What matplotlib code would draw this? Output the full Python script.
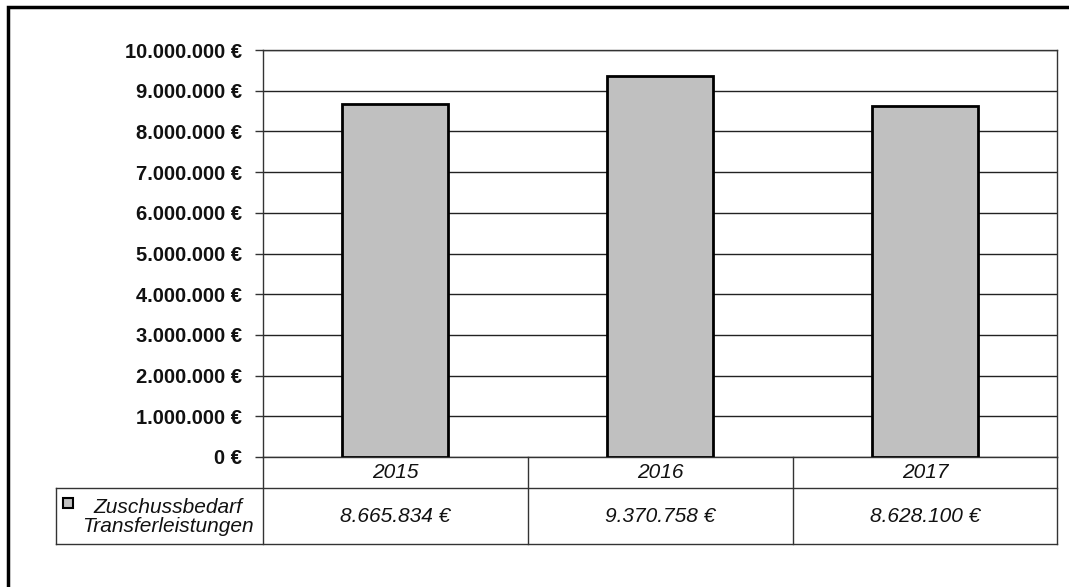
import matplotlib
matplotlib.use("Agg")
import matplotlib.pyplot as plt
from matplotlib.patches import Rectangle
from matplotlib.lines import Line2D
from matplotlib.ticker import FuncFormatter, MultipleLocator

plt.rcParams['font.family'] = ['Liberation Sans', 'DejaVu Sans']

years = ["2015", "2016", "2017"]
zuschuss = [8665834, 9370758, 8628100]
series_label = "Zuschussbedarf\nTransferleistungen"

W, H = 1069, 587
fig = plt.figure(figsize=(W / 100, H / 100), dpi=100)

def fx(px):
    return px / W

def fy(py):
    return 1 - py / H

# outer frame (runs off the right and bottom edges)
fig.add_artist(Rectangle((fx(8), fy(600)), fx(1080) - fx(8), fy(7) - fy(600),
                         transform=fig.transFigure, fill=False,
                         edgecolor="black", linewidth=2.5, clip_on=False))

ax = fig.add_axes([fx(263), fy(457), fx(1057) - fx(263), fy(50) - fy(457)])
x = list(range(len(years)))
ax.bar(x, zuschuss, width=0.4, color="#C0C0C0", edgecolor="black",
       linewidth=2, zorder=3)
ax.set_xlim(-0.5, len(years) - 0.5)
ax.set_ylim(0, 10_000_000)
ax.yaxis.set_major_locator(MultipleLocator(1_000_000))

def euro(v, pos):
    return f"{int(round(v)):,} €".replace(",", ".")

ax.yaxis.set_major_formatter(FuncFormatter(euro))
ax.grid(axis="y", color="#222222", linewidth=1, zorder=0)
ax.set_xticks([])
for s in ax.spines.values():
    s.set_color("#333333")
    s.set_linewidth(1)
ax.tick_params(axis="y", direction="out", length=6, width=1, color="#333333",
               pad=9, labelsize=14.5, labelcolor="#111111")
for lbl in ax.get_yticklabels():
    lbl.set_fontweight("bold")

# data table beneath the plot
line_kw = dict(color="#333333", linewidth=1, transform=fig.transFigure, clip_on=False)
col_edges_px = [263, 528, 793, 1057]
y_cat_top, y_cat_bot, y_val_bot = 457, 488, 544
legend_left = 56
fig.add_artist(Line2D([fx(legend_left), fx(1057)], [fy(y_cat_bot)] * 2, **line_kw))
fig.add_artist(Line2D([fx(legend_left), fx(1057)], [fy(y_val_bot)] * 2, **line_kw))
for cx in col_edges_px:
    fig.add_artist(Line2D([fx(cx)] * 2, [fy(y_cat_top), fy(y_val_bot)], **line_kw))
fig.add_artist(Line2D([fx(legend_left)] * 2, [fy(y_cat_bot), fy(y_val_bot)], **line_kw))

for i, (yr, val) in enumerate(zip(years, zuschuss)):
    cxp = (col_edges_px[i] + col_edges_px[i + 1]) / 2
    fig.text(fx(cxp), fy(472), yr, ha="center", va="center",
             fontsize=15, style="italic", color="#111111")
    fig.text(fx(cxp), fy(516), euro(val, None), ha="center", va="center",
             fontsize=15, style="italic", color="#111111")

# legend key + series name
fig.add_artist(Rectangle((fx(63), fy(508)), fx(73) - fx(63), fy(498) - fy(508),
                         transform=fig.transFigure, facecolor="#C0C0C0",
                         edgecolor="black", linewidth=1.5))
fig.text(fx(168), fy(517), series_label, ha="center", va="center",
         fontsize=15, style="italic", color="#111111", linespacing=1.05)

fig.savefig("out.png", dpi=100)
